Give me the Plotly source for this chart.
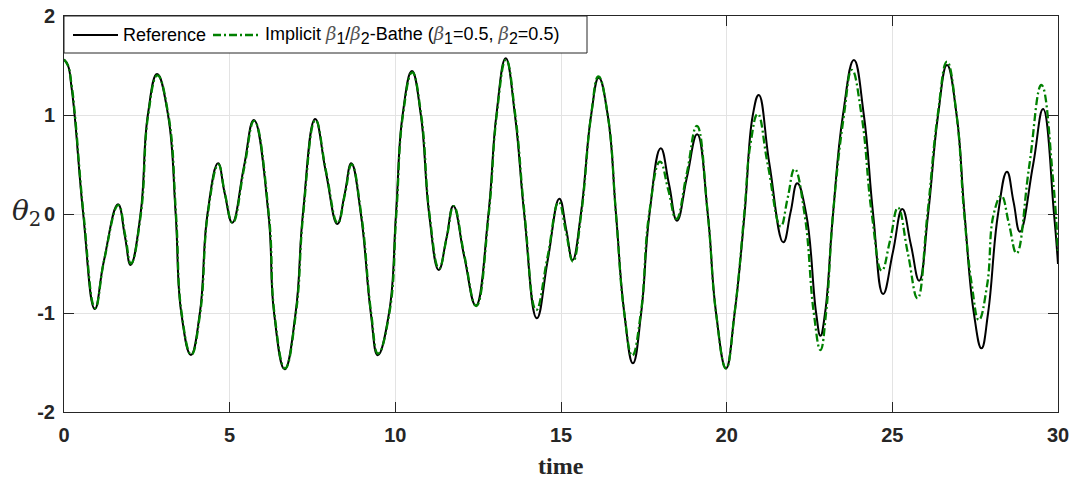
import plotly.graph_objects as go

# Reference solution: theta_2 over time (extrema and gridline crossings)
t_ref = [0.00, 0.12, 0.22, 0.32, 0.58, 0.93, 1.20, 1.63, 1.84, 2.01, 2.31, 2.53, 2.81, 3.14, 3.37, 3.54,
         3.83, 4.10, 4.33, 4.65, 4.85, 5.08, 5.43, 5.73, 6.17, 6.34, 6.66, 6.99, 7.21, 7.58,
         7.90, 8.25, 8.47, 8.67, 8.96, 9.26, 9.47, 9.81, 10.02, 10.22, 10.50, 10.77, 11.02,
         11.31, 11.54, 11.75, 12.08, 12.43, 12.81, 13.05, 13.33, 13.61, 13.89, 14.27, 14.60,
         14.95, 15.16, 15.35, 15.60, 15.91, 16.14, 16.41, 16.66, 16.91, 17.17, 17.42, 17.67,
         18.01, 18.26, 18.50, 18.80, 19.11, 19.43, 19.68, 19.98, 20.24, 20.54, 20.79, 20.97,
         21.29, 21.71, 21.93, 22.13, 22.40, 22.70, 22.83, 22.97, 23.21, 23.51, 23.84, 24.14,
         24.42, 24.72, 25.02, 25.30, 25.56, 25.81, 26.08, 26.38, 26.65, 26.94, 27.18, 27.46,
         27.69, 27.89, 28.19, 28.46, 28.66, 28.85, 29.25, 29.55, 29.88, 30.00]
y_ref = [1.56, 1.50, 1.30, 1.00, 0.00, -0.96, -0.48, 0.098, -0.23, -0.515, 0.00, 1.00, 1.414, 1.00, 0.00, -1.00,
         -1.424, -1.00, 0.00, 0.512, 0.21, -0.088, 0.478, 0.949, 0.00, -1.00, -1.569, -1.00, 0.00, 0.96,
         0.43, -0.101, 0.20, 0.512, 0.00, -1.00, -1.427, -1.00, 0.00, 1.00, 1.444, 1.00, 0.00,
         -0.566, -0.25, 0.081, -0.43, -0.926, 0.00, 1.00, 1.572, 1.00, 0.00, -1.054, -0.465,
         0.155, -0.16, -0.465, 0.00, 1.00, 1.377, 1.00, 0.00, -1.00, -1.508, -1.00, 0.00,
         0.663, 0.30, -0.067, 0.37, 0.805, 0.00, -1.00, -1.56, -1.00, 0.00, 1.00, 1.202,
         0.505, -0.286, 0.02, 0.31, 0.00, -1.00, -1.229, -1.00, 0.00, 1.00, 1.556, 1.00,
         0.00, -0.808, -0.38, 0.05, -0.31, -0.674, 0.00, 1.00, 1.505, 1.00, 0.00, -1.00,
         -1.357, -1.00, 0.00, 0.428, 0.12, -0.179, 0.50, 1.06, 0.00, -0.505]

# Implicit beta1/beta2-Bathe solution (beta1 = 0.5, beta2 = 0.5)
t_imp = [0.00, 0.12, 0.23, 0.33, 0.59, 0.94, 1.21, 1.64, 1.85, 2.02, 2.32, 2.54, 2.82, 3.15, 3.38, 3.55,
         3.84, 4.11, 4.34, 4.66, 4.86, 5.09, 5.44, 5.74, 6.18, 6.35, 6.67, 7.00, 7.22, 7.59,
         7.91, 8.26, 8.48, 8.68, 8.97, 9.27, 9.48, 9.82, 10.03, 10.23, 10.51, 10.78, 11.03,
         11.32, 11.55, 11.76, 12.09, 12.44, 12.82, 13.06, 13.34, 13.62, 13.90, 14.25, 14.59,
         14.93, 15.15, 15.36, 15.61, 15.91, 16.13, 16.41, 16.66, 16.91, 17.15, 17.41, 17.66,
         17.99, 18.24, 18.48, 18.79, 19.10, 19.43, 19.68, 19.98, 20.24, 20.53, 20.72, 20.94,
         21.24, 21.63, 21.84, 22.05, 22.35, 22.63, 22.83, 23.00, 23.21, 23.54, 23.78, 24.07,
         24.38, 24.68, 24.93, 25.17, 25.47, 25.76, 26.06, 26.37, 26.65, 26.94, 27.17, 27.40,
         27.61, 27.86, 28.06, 28.29, 28.52, 28.75, 29.13, 29.50, 29.85, 30.00]
y_imp = [1.56, 1.50, 1.30, 1.00, 0.00, -0.95, -0.47, 0.09, -0.22, -0.50, 0.00, 1.00, 1.40, 1.00, 0.00, -1.00,
         -1.42, -1.00, 0.00, 0.50, 0.20, -0.09, 0.47, 0.94, 0.00, -1.00, -1.56, -1.00, 0.00, 0.95,
         0.43, -0.09, 0.20, 0.50, 0.00, -1.00, -1.41, -1.00, 0.00, 1.00, 1.43, 1.00, 0.00,
         -0.55, -0.24, 0.08, -0.43, -0.93, 0.00, 1.00, 1.56, 1.00, 0.00, -0.97, -0.44,
         0.12, -0.18, -0.48, 0.00, 1.00, 1.39, 1.00, 0.00, -1.00, -1.43, -1.00, 0.00,
         0.53, 0.24, -0.05, 0.40, 0.89, 0.00, -1.00, -1.56, -1.00, 0.00, 0.71, 1.01,
         0.50, -0.125, 0.16, 0.455, 0.00, -1.00, -1.374, -1.00, 0.00, 1.00, 1.455, 1.00,
         0.00, -0.572, -0.27, 0.064, -0.40, -0.852, 0.00, 1.00, 1.539, 1.00, 0.00, -0.72,
         -1.071, -0.72, 0.00, 0.182, -0.10, -0.397, 0.48, 1.303, 0.35, -0.40]

x_ticks = [0, 5, 10, 15, 20, 25, 30]
x_labels = ["0", "5", "10", "15", "20", "25", "30"]
y_ticks = [-2, -1, 0, 1, 2]
y_labels = ["-2", "-1", "0", "1", "2"]

W, H = 1076, 479
ML, MR, MT, MB = 64, 18, 16, 67
PW, PH = W - ML - MR, H - MT - MB


def px(x):
    return (x - ML) / PW


def py(y):
    return (H - MB - y) / PH


AX = "#262626"
GREEN = "#008000"
DASHDOT = "8px,3px,2px,3px"

fig = go.Figure()
fig.add_trace(go.Scatter(
    x=t_ref, y=y_ref, mode="lines", name="Reference",
    line=dict(color="black", width=2, shape="spline", smoothing=1.3),
    showlegend=False,
))
fig.add_trace(go.Scatter(
    x=t_imp, y=y_imp, mode="lines", name="Implicit",
    line=dict(color=GREEN, width=2.3, dash=DASHDOT, shape="spline", smoothing=1.3),
    showlegend=False,
))

axis_common = dict(
    showline=True, linecolor=AX, linewidth=1, mirror="allticks",
    ticks="inside", ticklen=10, tickcolor=AX, tickwidth=1,
    showgrid=True, gridcolor="#e3e3e3", gridwidth=1, zeroline=False,
    tickfont=dict(family="Liberation Sans", size=20, color=AX, weight="bold"),
)
fig.update_xaxes(range=[0, 30], tickvals=x_ticks, ticktext=x_labels,
                 ticklabelstandoff=5, **axis_common)
fig.update_yaxes(range=[-2, 2], tickvals=y_ticks, ticktext=y_labels,
                 ticklabelstandoff=4, **axis_common)

# Legend box, line samples and entries
beta = '<span style="color:#555555;font-family:DejaVu Serif"><i>β</i></span>'


def sub(s):
    return '<sub><span style="font-size:16px">' + s + '</span></sub>'


fig.add_shape(type="rect", xref="paper", yref="paper",
              x0=px(64), x1=px(587), y0=py(53), y1=py(16),
              line=dict(color=AX, width=1), fillcolor="white", layer="above")
fig.add_shape(type="line", xref="paper", yref="paper",
              x0=px(73), x1=px(118), y0=py(35), y1=py(35),
              line=dict(color="black", width=2), layer="above")
fig.add_shape(type="line", xref="paper", yref="paper",
              x0=px(213), x1=px(260), y0=py(35), y1=py(35),
              line=dict(color=GREEN, width=2.3, dash=DASHDOT), layer="above")
fig.add_annotation(xref="paper", yref="paper", x=px(121), y=py(35),
                   xanchor="left", yanchor="middle", showarrow=False,
                   text="Reference",
                   font=dict(family="Liberation Sans", size=18, color="black"))
fig.add_annotation(xref="paper", yref="paper", x=px(263), y=py(35),
                   xanchor="left", yanchor="middle", showarrow=False,
                   text=("Implicit " + beta + sub("1") + "/" + beta + sub("2") + "-Bathe ("
                         + beta + sub("1") + "=0.5, " + beta + sub("2") + "=0.5)"),
                   font=dict(family="Liberation Sans", size=18, color="black"))

# Axis titles
fig.add_annotation(xref="x", yref="paper", x=15, y=py(466),
                   xanchor="center", yanchor="middle", showarrow=False,
                   text="<b>time</b>",
                   font=dict(family="Liberation Serif", size=24, color=AX))
fig.add_annotation(xref="paper", yref="paper", x=px(10), y=py(212),
                   xanchor="left", yanchor="middle", showarrow=False,
                   text="<i>θ</i><sub>2</sub>",
                   font=dict(family="DejaVu Serif", size=28, color=AX))

fig.update_layout(
    width=W, height=H,
    margin=dict(l=ML, r=MR, t=MT, b=MB, autoexpand=False),
    paper_bgcolor="white", plot_bgcolor="white",
)

fig.write_html("out.html")
